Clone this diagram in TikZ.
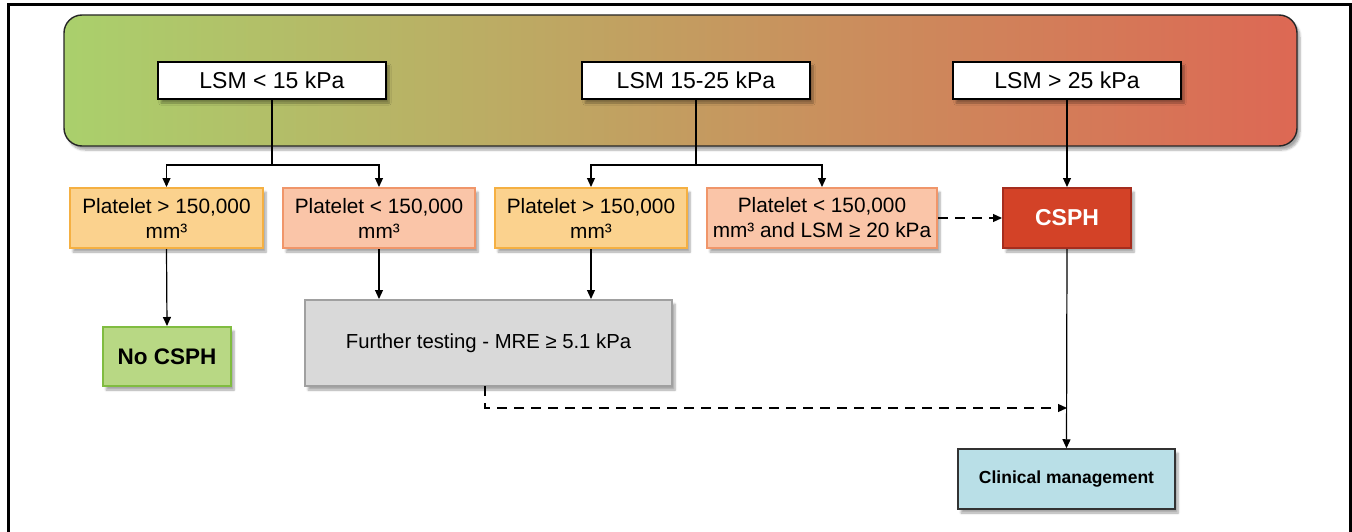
\documentclass[tikz,border=0pt]{standalone}
\usepackage{fontspec}
\setmainfont{Liberation Sans}
\usetikzlibrary{arrows.meta,shadows.blur}
\definecolor{orfill}{RGB}{251,210,142}
\definecolor{ordraw}{RGB}{245,176,66}
\definecolor{safill}{RGB}{250,197,168}
\definecolor{sadraw}{RGB}{240,150,106}
\definecolor{csfill}{RGB}{211,66,39}
\definecolor{csdraw}{RGB}{165,45,30}
\definecolor{nofill}{RGB}{184,216,132}
\definecolor{nodraw}{RGB}{128,188,64}
\definecolor{ftfill}{RGB}{217,217,217}
\definecolor{ftdraw}{RGB}{160,160,160}
\definecolor{clfill}{RGB}{185,223,231}
\definecolor{gleft}{RGB}{170,208,108}
\definecolor{gmid}{RGB}{196,158,96}
\definecolor{gright}{RGB}{221,104,84}
\tikzset{
  shad/.style={blur shadow={shadow xshift=3pt,shadow yshift=-4pt,shadow blur steps=6,shadow opacity=35}},
  box/.style={rectangle,inner sep=0pt,align=center,line width=1.3pt,shad},
  lsm/.style={box,draw=black,fill=white,minimum width=228pt,minimum height=37pt,font=\fontsize{23}{27}\selectfont},
  plt/.style={box,minimum height=60pt,font=\fontsize{20.8}{25}\selectfont},
  orb/.style={plt,fill=orfill,draw=ordraw,line width=2pt},
  sab/.style={plt,fill=safill,draw=sadraw,line width=2pt},
  conn/.style={line width=1.2pt,draw=black},
  arr/.style={conn,-{Triangle[length=9pt,width=8pt]}},
  darr/.style={arr,dash pattern=on 10pt off 7pt}
}
\begin{document}
\begin{tikzpicture}[x=1pt,y=-1pt]
\useasboundingbox (0,0) rectangle (1352,532);
% outer frame (no bottom)
\draw[line width=3pt] (8,540) -- (8,5) -- (1350,5) -- (1350,540);
% gradient band
\draw[rounded corners=18pt,line width=1.4pt,draw=black!85,left color=gleft,middle color=gmid,right color=gright,shad] (64,15) rectangle (1297,146);
% LSM boxes
\node[lsm] (l1) at (272,80.5) {LSM < 15 kPa};
\node[lsm] (l2) at (696,80.5) {LSM 15-25 kPa};
\node[lsm] (l3) at (1067,80.5) {LSM > 25 kPa};
% second row
\node[orb,minimum width=193pt] (p1) at (166.5,218) {Platelet > 150,000\\mm³};
\node[sab,minimum width=192pt] (p2) at (379,218) {Platelet < 150,000\\mm³};
\node[orb,minimum width=192pt] (p3) at (591,218) {Platelet > 150,000\\mm³};
\node[sab,minimum width=230pt] (p4) at (822,218) {Platelet < 150,000\\mm³ and LSM ≥ 20 kPa};
\node[box,fill=csfill,draw=csdraw,line width=2pt,minimum width=128pt,minimum height=60pt,text=white,font=\fontsize{23}{27}\selectfont\bfseries] (cs) at (1067,218) {CSPH};
% third row
\node[box,fill=nofill,draw=nodraw,line width=2pt,minimum width=128pt,minimum height=59pt,font=\fontsize{22.5}{27}\selectfont\bfseries] (no) at (167,356.5) {No CSPH};
\node[box,fill=ftfill,draw=ftdraw,line width=2pt,minimum width=367pt,minimum height=86pt,font=\fontsize{20.3}{25}\selectfont] (ft) at (488.5,343) {Further testing - MRE ≥ 5.1 kPa};
\node[box,fill=clfill,draw=black!80,line width=1.5pt,minimum width=217pt,minimum height=60pt,font=\fontsize{17.5}{21}\selectfont\bfseries] (cl) at (1066.5,479) {Clinical management};
% connectors
\coordinate (j1) at (272,165);
\coordinate (j2) at (696,165);
\draw[conn] (l1.south) -- (j1);
\draw[arr] (j1) -| (p1.north);
\draw[arr] (j1) -| (p2.north);
\draw[conn] (l2.south) -- (j2);
\draw[arr] (j2) -| (p3.north);
\draw[arr] (j2) -| (p4.north);
\draw[arr] (l3.south) -- (cs.north);
\draw[arr] (p1.south) -- (no.north);
\draw[arr] (p2.south) -- (p2.south |- ft.north);
\draw[arr] (p3.south) -- (p3.south |- ft.north);
\draw[darr] (p4.east) -- (cs.west);
\draw[arr] (cs.south) -- (cl.north);
\coordinate (fs) at (485,386);
\coordinate (ce) at (1067,408);
\draw[darr] (fs) |- (ce);
\end{tikzpicture}
\end{document}
